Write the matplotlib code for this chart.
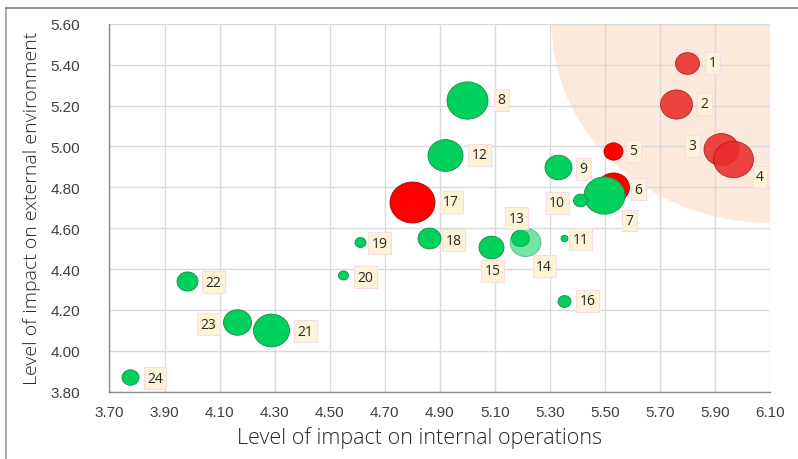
import matplotlib
matplotlib.use('Agg')
import matplotlib.pyplot as plt
import numpy as np
from matplotlib.path import Path
from matplotlib.transforms import Affine2D
from matplotlib.patches import Ellipse
from matplotlib.lines import Line2D

# risk items: position on the two impact scales and bubble weight
ids = [str(i) for i in range(1, 25)]
internal = [5.80, 5.76, 5.92, 5.965, 5.53, 5.53, 5.495, 5.00, 5.33, 5.41, 5.35, 4.92,
            5.19, 5.21, 5.085, 5.35, 4.80, 4.86, 4.61, 4.55, 4.285, 3.98, 4.165, 3.775]
external = [5.41, 5.21, 4.99, 4.94, 4.98, 4.80, 4.76, 5.23, 4.90, 4.74, 4.55, 4.96,
            4.55, 4.53, 4.51, 4.245, 4.73, 4.55, 4.53, 4.37, 4.10, 4.34, 4.14, 3.87]
weight = [24, 32, 35, 40, 19, 32, 41, 41, 27, 14, 7, 35,
          18, 31, 25, 13, 45, 23, 11, 10, 36, 21, 28, 17]
critical = ['1', '2', '3', '4', '5', '6', '17']

xticks = np.round(np.arange(3.70, 6.11, 0.20), 2)
yticks = np.round(np.arange(3.80, 5.61, 0.20), 2)

# label offsets in pixels (right, down)
label_off = {'1': (25, 0), '2': (28, 0), '3': (-28, -3), '4': (27, 18), '5': (20, 0),
             '6': (25, 2), '7': (26, 25), '8': (34, 0), '9': (25, 2), '10': (-23, 3),
             '11': (17, 1), '12': (34, 0), '13': (-3, -20), '14': (19, 24), '15': (2, 24),
             '16': (24, 0), '17': (39, 0), '18': (25, 2), '19': (20, 1), '20': (22, 2),
             '21': (35, 1), '22': (27, 1), '23': (-29, 2), '24': (25, 1)}

fig = plt.figure(figsize=(7.98, 4.60), dpi=100)
ax = fig.add_axes([0.1372, 0.1467, 0.8278, 0.7990])

# chart frame
fig.add_artist(Line2D([6/798, 6/798], [0, 1 - 9/460], transform=fig.transFigure, color='#9A9A9A', lw=1.2))
fig.add_artist(Line2D([6/798, 1], [1 - 9/460, 1 - 9/460], transform=fig.transFigure, color='#7F7F7F', lw=1.2))

# high-risk zone in the top right corner
zone = Ellipse((6.10, 5.60), width=2*0.793, height=2*0.974, facecolor='#FDE9DC', edgecolor='none', zorder=0)
ax.add_patch(zone)

# slightly wide bubbles
oval = Path.unit_circle().transformed(Affine2D().scale(1.1, 1.0))

for i, k in enumerate(ids):
    if k in critical:
        if k in ['1', '2', '3', '4']:
            fc, ec, a = '#EA2C2C', '#9E1B1B', 0.88
        else:
            fc, ec, a = '#FF0000', '#B00000', 1.0
    else:
        fc, ec, a = '#00D05C', '#178A45', 1.0
        if k == '14':
            a = 0.55
    s = (weight[i] * 0.72) ** 2
    ax.scatter(internal[i], external[i], s=s, marker=oval, facecolor=fc, edgecolor=ec,
               linewidth=0.6, alpha=a, zorder=3 + i * 0.01)
    dx, dy = label_off[k]
    ax.annotate(k, (internal[i], external[i]), xytext=(dx * 0.72, -dy * 0.72),
                textcoords='offset points', ha='center', va='center', fontsize=10,
                family='Open Sans', color='#262626', zorder=5,
                bbox=dict(boxstyle='square,pad=0.25', fc='#FEF3D6', ec='#F7DCE5', lw=0.8))

ax.set_xlim(3.70, 6.10)
ax.set_ylim(3.80, 5.60)
ax.set_xticks(xticks)
ax.set_yticks(yticks)
ax.set_xticklabels(['%.2f' % v for v in xticks], family='Liberation Sans', fontsize=11)
ax.set_yticklabels(['%.2f' % v for v in yticks], family='Liberation Sans', fontsize=11)
ax.tick_params(length=0, colors='#404040')
ax.tick_params(axis='x', pad=10)
ax.tick_params(axis='y', pad=21)
ax.grid(True, color='#D9D9D9', lw=1.0, zorder=1)
ax.set_axisbelow(True)
for side in ['top', 'right']:
    ax.spines[side].set_visible(False)
for side in ['left', 'bottom']:
    ax.spines[side].set_color('#8C8C8C')
    ax.spines[side].set_linewidth(1.0)

ax.set_xlabel('Level of impact on internal operations', family='Open Sans', fontweight='light',
              fontsize=15.5, color='#262626', labelpad=5)
ax.xaxis.label.set_x(0.47)
ax.set_ylabel('Level of impact on external environment', family='Open Sans', fontweight='light',
              fontsize=14, color='#262626', labelpad=7)

fig.savefig('out.png', dpi=100)
